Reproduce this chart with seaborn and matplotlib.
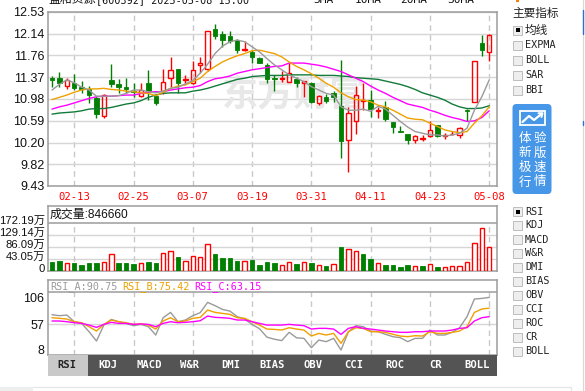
import matplotlib

matplotlib.use("Agg")
import matplotlib.pyplot as plt
import matplotlib.transforms as mtransforms
from matplotlib.patches import Rectangle, FancyBboxPatch
from matplotlib.lines import Line2D
import numpy as np
import seaborn as sns

# ---- data (60 trading days, 2025-02-10 .. 2025-05-08) ----
opens = [11.35, 11.35, 11.21, 11.27, 11.19, 11.16, 11.00, 10.67, 11.31, 11.25,
         11.19, 11.12, 11.03, 11.27, 11.03, 11.13, 11.35, 11.51, 11.31, 11.27,
         11.59, 11.52, 12.23, 12.14, 12.11, 12.03, 11.85, 11.82, 11.71, 11.59,
         11.35, 11.33, 11.29, 11.34, 11.26, 11.26, 10.90, 11.01, 11.08, 10.86,
         10.25, 10.58, 10.95, 10.97, 10.77, 10.83, 10.57, 10.41, 10.36, 10.25,
         10.27, 10.32, 10.52, 10.32, 10.35, 10.34, 10.79, 10.93, 11.97, 11.81]
highs = [11.39, 11.46, 11.35, 11.42, 11.30, 11.21, 11.03, 11.07, 11.60, 11.34,
         11.35, 11.27, 11.27, 11.50, 11.07, 11.51, 11.72, 11.51, 11.40, 11.66,
         11.72, 12.20, 12.32, 12.20, 12.20, 12.05, 12.01, 11.85, 11.73, 11.63,
         11.40, 11.48, 11.63, 11.38, 11.30, 11.28, 11.06, 11.07, 11.12, 11.68,
         10.84, 11.21, 11.26, 11.14, 10.84, 10.95, 10.57, 10.50, 10.36, 10.33,
         10.33, 10.59, 10.52, 10.38, 10.41, 10.48, 10.81, 11.65, 12.12, 12.13]
lows = [11.19, 11.20, 11.15, 11.14, 11.09, 10.91, 10.65, 10.65, 11.19, 11.09,
        11.08, 11.01, 11.01, 10.96, 10.88, 11.07, 11.19, 11.09, 11.25, 11.25,
        11.44, 11.47, 12.05, 11.90, 11.98, 11.80, 11.84, 11.62, 11.62, 11.26,
        11.13, 11.28, 11.29, 11.19, 11.01, 10.90, 10.88, 10.90, 10.93, 9.92,
        9.68, 10.36, 10.78, 10.66, 10.65, 10.58, 10.37, 10.39, 10.17, 10.19,
        10.24, 10.30, 10.30, 10.26, 10.33, 10.28, 10.59, 10.93, 11.75, 11.66]
closes = [11.31, 11.26, 11.31, 11.18, 11.15, 11.05, 10.71, 11.06, 11.25, 11.19,
          11.16, 11.10, 11.14, 11.13, 10.91, 11.28, 11.49, 11.26, 11.34, 11.49,
          11.62, 12.20, 12.11, 12.03, 12.02, 11.85, 11.86, 11.73, 11.63, 11.34,
          11.33, 11.35, 11.44, 11.27, 11.30, 10.93, 11.04, 10.95, 11.02, 10.24,
          10.73, 11.05, 10.97, 10.81, 10.78, 10.63, 10.48, 10.39, 10.25, 10.32,
          10.28, 10.43, 10.32, 10.33, 10.36, 10.46, 10.76, 11.65, 11.85, 12.12]

ma5 = [11.14, 11.24, 11.32, 11.27, 11.19, 11.14, 11.03, 11.03, 11.03, 11.04,
       11.08, 11.14, 11.14, 11.11, 11.09, 11.12, 11.17, 11.19, 11.25, 11.31,
       11.44, 11.60, 11.79, 11.92, 12.00, 12.03, 12.00, 11.91, 11.82, 11.70,
       11.59, 11.50, 11.41, 11.35, 11.29, 11.20, 11.14, 11.08, 11.05, 10.84,
       10.78, 10.78, 10.80, 10.76, 10.85, 10.80, 10.69, 10.58, 10.48, 10.40,
       10.37, 10.34, 10.34, 10.32, 10.34, 10.37, 10.46, 10.78, 11.02, 11.32]
ma10 = [10.97, 11.01, 11.05, 11.10, 11.14, 11.16, 11.16, 11.17, 11.15, 11.14,
        11.12, 11.11, 11.09, 11.08, 11.04, 11.10, 11.17, 11.21, 11.23, 11.29,
        11.35, 11.47, 11.56, 11.64, 11.70, 11.75, 11.79, 11.84, 11.85, 11.82,
        11.79, 11.73, 11.64, 11.56, 11.50, 11.43, 11.35, 11.26, 11.19, 11.09,
        11.02, 10.97, 10.96, 10.93, 10.87, 10.84, 10.78, 10.71, 10.64, 10.62,
        10.61, 10.55, 10.49, 10.43, 10.40, 10.38, 10.40, 10.55, 10.68, 10.84]
ma20 = [10.80, 10.84, 10.87, 10.91, 10.95, 10.99, 11.02, 11.03, 11.03, 11.04,
        11.05, 11.05, 11.08, 11.10, 11.11, 11.11, 11.14, 11.16, 11.18, 11.19,
        11.22, 11.29, 11.34, 11.36, 11.39, 11.44, 11.47, 11.50, 11.52, 11.54,
        11.56, 11.57, 11.62, 11.62, 11.62, 11.60, 11.58, 11.55, 11.51, 11.47,
        11.41, 11.35, 11.29, 11.21, 11.14, 11.08, 11.01, 10.95, 10.89, 10.86,
        10.83, 10.78, 10.74, 10.69, 10.65, 10.62, 10.58, 10.59, 10.65, 10.77]
ma30 = [10.71, 10.73, 10.74, 10.75, 10.77, 10.80, 10.81, 10.81, 10.83, 10.86,
        10.89, 10.91, 10.95, 11.01, 11.05, 11.08, 11.09, 11.09, 11.09, 11.12,
        11.14, 11.17, 11.21, 11.25, 11.29, 11.33, 11.35, 11.38, 11.39, 11.40,
        11.40, 11.40, 11.41, 11.41, 11.41, 11.41, 11.40, 11.40, 11.40, 11.39,
        11.38, 11.36, 11.35, 11.34, 11.33, 11.30, 11.27, 11.24, 11.20, 11.15,
        11.09, 11.05, 11.01, 10.96, 10.89, 10.84, 10.81, 10.81, 10.82, 10.86]

# volume in 万 (10k shares); 1 = red (close above previous close)
volume = [31.1, 34.7, 28.7, 29.9, 22.7, 29.9, 29.9, 33.5, 61.0, 29.9,
          29.9, 26.3, 28.7, 33.5, 29.9, 64.6, 71.7, 51.4, 37.1, 53.8,
          50.2, 98.1, 62.2, 47.8, 47.8, 34.7, 37.1, 40.7, 22.7, 33.5,
          29.9, 22.7, 33.5, 26.3, 33.5, 29.9, 21.5, 19.1, 26.3, 87.3,
          78.9, 71.7, 62.2, 44.2, 29.9, 22.7, 22.7, 15.5, 22.7, 17.9,
          19.1, 25.1, 15.5, 14.3, 17.9, 17.9, 32.3, 100.4, 154.3, 84.67]
vol_up = [0, 0, 1, 0, 0, 0, 0, 1, 1, 0, 0, 0, 1, 0, 0, 1, 1, 0, 1, 1,
          1, 1, 0, 0, 0, 0, 1, 0, 0, 0, 0, 1, 1, 0, 1, 0, 1, 0, 1, 0,
          1, 1, 0, 0, 1, 0, 0, 0, 0, 1, 0, 1, 0, 1, 1, 1, 1, 1, 1, 1]

rsi_a = [66.0, 64.6, 65.5, 56.0, 53.6, 41.7, 28.4, 51.2, 59.3, 56.0,
         53.6, 50.3, 52.2, 48.9, 37.0, 61.7, 69.3, 56.0, 58.4, 64.6,
         68.9, 83.6, 78.9, 73.6, 71.2, 63.2, 60.0, 52.0, 46.0, 34.0,
         31.0, 29.0, 40.8, 33.0, 32.2, 18.9, 29.8, 27.5, 32.2, 15.5,
         41.7, 50.3, 48.9, 42.7, 41.7, 38.0, 34.6, 33.2, 27.5, 32.2,
         32.2, 44.1, 37.0, 37.0, 40.8, 47.4, 63.2, 88.4, 89.3, 90.75]
rsi_b = [61.7, 60.8, 59.8, 56.0, 54.6, 48.9, 42.7, 52.2, 58.4, 56.0,
         54.6, 52.2, 53.2, 51.2, 45.5, 57.0, 61.7, 56.0, 57.0, 60.8,
         62.2, 72.7, 69.3, 67.9, 66.5, 61.7, 60.8, 56.0, 51.2, 45.5,
         45.0, 44.1, 47.4, 45.5, 44.1, 35.5, 39.3, 37.0, 39.3, 25.1,
         41.7, 47.4, 46.5, 41.7, 41.7, 40.8, 38.0, 35.5, 34.6, 36.0,
         35.5, 41.7, 39.3, 39.3, 40.8, 42.7, 48.9, 69.3, 74.1, 75.42]
rsi_c = [57.0, 57.0, 56.0, 54.6, 53.6, 51.2, 47.9, 52.2, 55.1, 53.6,
         53.6, 52.2, 52.7, 52.2, 48.9, 53.6, 56.0, 54.6, 55.1, 56.0,
         57.4, 64.1, 62.2, 61.7, 60.8, 58.4, 58.4, 56.0, 53.6, 51.2,
         51.2, 51.2, 52.2, 51.2, 50.3, 45.5, 46.5, 46.5, 45.5, 37.9,
         46.5, 48.9, 46.5, 45.5, 44.1, 42.7, 41.7, 40.8, 40.8, 41.7,
         41.7, 42.7, 42.7, 42.7, 44.1, 46.5, 47.4, 57.0, 61.7, 63.15]

date_idx = [3, 11, 19, 27, 35, 43, 51, 59]
date_labels = ["02-13", "02-25", "03-07", "03-19", "03-31", "04-11", "04-23", "05-08"]
price_ticks = [9.43, 9.82, 10.20, 10.59, 10.98, 11.37, 11.76, 12.14, 12.53]
vol_ticks = [0, 43.05, 86.09, 129.14, 172.19]
vol_labels = ["0", "43.05万", "86.09万", "129.14万", "172.19万"]
rsi_tick_pos = [89.9, 52.7, 15.6]
rsi_tick_labels = ["106", "57", "8"]
tab_names = ["RSI", "KDJ", "MACD", "W&R", "DMI", "BIAS", "OBV", "CCI", "ROC", "CR", "BOLL"]
main_opts = ["均线", "EXPMA", "BOLL", "SAR", "BBI"]
sub_opts = ["RSI", "KDJ", "MACD", "W&R", "DMI", "BIAS", "OBV", "CCI", "ROC", "CR", "BOLL"]

# ---- style ----
W, H = 585, 391
RED = "#ff0000"
GREEN = "#008000"
GRID = "#d6d6d6"
BORDER = "#9c9c9c"
C_MA5, C_MA10, C_MA20, C_MA30 = "#9a9a9a", "#f0a000", "#ff00ff", "#127a3a"
MONO = "DejaVu Sans Mono"
CJK = ["Liberation Sans", "Noto Sans CJK SC", "DejaVu Sans"]

sns.set_style("white")
plt.rcParams["font.family"] = CJK

fig = plt.figure(figsize=(W / 100, H / 100), dpi=100)
PX = mtransforms.Affine2D().scale(1 / W, -1 / H).translate(0, 1) + fig.transFigure

XMIN, XMAX = -0.54, 60.05
idx = np.arange(len(closes))
o, h, l, c = map(np.asarray, (opens, highs, lows, closes))


def px_box(x0, y0, x1, y1):
    return [x0 / W, 1 - y1 / H, (x1 - x0) / W, (y1 - y0) / H]


def style_panel(a):
    a.set_xlim(XMIN, XMAX)
    for s in a.spines.values():
        s.set_color(BORDER)
        s.set_linewidth(1.1)
    a.tick_params(axis="both", length=0)


# ---- main price panel ----
ax = fig.add_axes(px_box(48, 12, 497, 186))
style_panel(ax)
ax.set_ylim(9.43, 12.53)
ax.set_yticks(price_ticks, [f"{v:.2f}" for v in price_ticks])
ax.set_xticks(date_idx, date_labels)
ax.tick_params(axis="y", labelsize=9, labelcolor="#111111", pad=2.5)
ax.tick_params(axis="x", labelsize=7.6, labelcolor=RED, pad=4.5)
for t in ax.get_xticklabels():
    t.set_fontfamily(MONO)
ax.grid(axis="y", color=GRID, lw=1, ls="-")
ax.grid(axis="x", color="#c8c8c8", lw=1, ls=(0, (4, 3)))
ax.set_axisbelow(True)
ax.text(0.3875, 0.523, "东方财富", transform=ax.transAxes, fontsize=26,
        fontweight="bold", color="#e8e8e8", family="Noto Sans CJK SC",
        ha="left", va="center", zorder=1)

up = c >= o
top = np.maximum(o, c)
bot = np.minimum(o, c)
body = np.maximum(top - bot, 0.012)
wick_col = np.where(up, RED, GREEN)
ax.vlines(idx, top, h, colors=wick_col, lw=1, zorder=3)
ax.vlines(idx, l, bot, colors=wick_col, lw=1, zorder=3)
ax.bar(idx[up], body[up], bottom=bot[up], width=0.6, facecolor="none",
       edgecolor=RED, lw=1, zorder=4)
ax.bar(idx[~up], body[~up], bottom=bot[~up], width=0.6, facecolor=GREEN,
       edgecolor=GREEN, lw=0.6, zorder=4)
for series, col in ((ma30, C_MA30), (ma20, C_MA20), (ma10, C_MA10), (ma5, C_MA5)):
    sns.lineplot(x=idx, y=series, ax=ax, color=col, linewidth=1, zorder=5,
                 estimator=None, legend=False)
ax.set_xlabel("")
ax.set_ylabel("")

# ---- volume panel ----
VOL_TOP = 172.19 * 65 / 48
axv = fig.add_axes(px_box(48, 206, 497, 271))
style_panel(axv)
axv.set_ylim(0, VOL_TOP)
axv.set_xticks([])
axv.set_yticks([])
for v in vol_ticks[1:-1]:
    axv.axhline(v, color=GRID, lw=1, zorder=0)
axv.axhline(172.19, color=BORDER, lw=1.1, zorder=1)
axv.vlines(date_idx, 0, 172.19, colors="#c8c8c8", lw=1, linestyles=(0, (4, 3)), zorder=0)
vol = np.asarray(volume)
vup = np.asarray(vol_up, dtype=bool)
axv.bar(idx[vup], vol[vup], width=0.6, facecolor="white", edgecolor=RED, lw=1, zorder=3)
axv.bar(idx[~vup], vol[~vup], width=0.6, facecolor=GREEN, edgecolor=GREEN, lw=0.6, zorder=3)
lab_tr = mtransforms.blended_transform_factory(axv.transAxes, axv.transData) + \
    mtransforms.ScaledTranslation(0, 2.5 / 100, fig.dpi_scale_trans)
for v, s in zip(vol_ticks, vol_labels):
    axv.text(-0.0075, v, s, transform=lab_tr, ha="right", va="center",
             fontsize=8.1, color="#111111", clip_on=False)
fig.text(50 / W, 1 - 215 / H, "成交量:846660", fontsize=8.6, color="#111111",
         ha="left", va="center")

# ---- RSI panel ----
axr = fig.add_axes(px_box(48, 280, 497, 355))
style_panel(axr)
axr.set_ylim(8.43, 115.6)
axr.set_xticks([])
axr.set_yticks(rsi_tick_pos, rsi_tick_labels)
axr.tick_params(axis="y", labelsize=9, labelcolor="#111111", pad=2.5)
axr.axhline(98.4, color=BORDER, lw=1.1, zorder=1)
axr.axhline(52.7, color=GRID, lw=1, zorder=0)
axr.vlines(date_idx, 8.43, 98.4, colors="#c8c8c8", lw=1, linestyles=(0, (4, 3)), zorder=0)
for series, col in ((rsi_a, C_MA5), (rsi_b, C_MA10), (rsi_c, C_MA20)):
    sns.lineplot(x=idx, y=series, ax=axr, color=col, linewidth=1, zorder=3,
                 estimator=None, legend=False)
axr.set_xlabel("")
axr.set_ylabel("")
for x0, s, col in ((50, f"RSI_A:{rsi_a[-1]:.2f}", C_MA5),
                   (122, f"RSI_B:{rsi_b[-1]:.2f}", "#eea000"),
                   (194, f"RSI_C:{rsi_c[-1]:.2f}", C_MA20)):
    fig.text(x0 / W, 1 - 286.5 / H, s, fontsize=7.3, family=MONO, color=col,
             ha="left", va="center")

# ---- indicator tabs ----
fig.patches.append(Rectangle((48, 355), 449, 20.5, facecolor="#545454",
                             edgecolor="none", transform=PX, zorder=2))
fig.patches.append(Rectangle((48, 355), 40, 20.5, facecolor="#c9c9c9",
                             edgecolor="none", transform=PX, zorder=2))
for k, name in enumerate(tab_names):
    fig.text((67 + 41 * k) / W, 1 - 365.5 / H, name, fontsize=7.6, family=MONO,
             color="#222222" if k == 0 else "white", ha="center", va="center",
             fontweight="bold")

# ---- header (cut off at the top edge, as in the page capture) ----
fig.text(48 / W, 1 - 2.7 / H, "盛和资源", fontsize=8.6, color="#111111",
         ha="left", va="baseline")
fig.text(96 / W, 1 - 2.7 / H, "[600392] 2025-05-08 15:00", fontsize=7.3,
         family=MONO, color="#111111", ha="left", va="baseline")
for x0, s in ((313, "5MA"), (355, "10MA"), (400, "20MA"), (447, "30MA")):
    fig.text(x0 / W, 1 - 2.7 / H, s, fontsize=8, family=MONO, color="#111111",
             ha="left", va="baseline")

# ---- right side controls ----
fig.patches.append(Rectangle((516, 0), 3, 2, facecolor="#ff7f00", edgecolor="none",
                             transform=PX))
fig.text(512 / W, 1 - 13.5 / H, "主要指标", fontsize=8.4, color="#222222",
         family="Noto Sans CJK SC", ha="left", va="center")


def checkbox(y, checked):
    fig.patches.append(Rectangle((513, y - 4.5), 9, 9, facecolor="#eeeeee",
                                 edgecolor="#bdbdbd", lw=0.7, transform=PX))
    if checked:
        fig.patches.append(Rectangle((515.5, y - 2), 4, 4, facecolor="black",
                                     edgecolor="none", transform=PX))


for k, name in enumerate(main_opts):
    y = 30 + 15 * k
    checkbox(y, k == 0)
    if k == 0:
        fig.text(525 / W, 1 - y / H, name, fontsize=8.4, family="Noto Sans CJK SC",
                 color="#222222", ha="left", va="center")
    else:
        fig.text(525 / W, 1 - y / H, name, fontsize=7.3, family=MONO,
                 color="#222222", ha="left", va="center")

for k, name in enumerate(sub_opts):
    y = 211.5 + 14 * k
    checkbox(y, k == 0)
    fig.text(525 / W, 1 - y / H, name, fontsize=7.3, family=MONO,
             color="#222222", ha="left", va="center")

# blue "new version" button
fig.patches.append(FancyBboxPatch((512.5, 104), 39, 90,
                                  boxstyle="round,pad=0,rounding_size=4",
                                  facecolor="#4797e8", edgecolor="none", transform=PX))
fig.patches.append(Rectangle((520, 111), 25, 14, facecolor="none", edgecolor="white",
                             lw=1.3, transform=PX))
fig.lines.append(Line2D([522.5, 529, 534, 542], [122, 116, 120, 113.5], color="white",
                        lw=1.6, transform=PX))
fig.lines.append(Line2D([538.5, 542.5, 541.5], [113.2, 113.2, 117], color="white",
                        lw=1.4, transform=PX))
for row, (a, b) in enumerate([("体", "验"), ("新", "版"), ("极", "速"), ("行", "情")]):
    yc = 138.5 + 14.5 * row
    for xc, ch in ((524.5, a), (539.5, b)):
        fig.text(xc / W, 1 - yc / H, ch, fontsize=9, family="Noto Sans CJK SC",
                 color="white", ha="center", va="center")

# page edges
fig.lines.append(Line2D([583, 583], [0, 391], color="#d8d8d8", lw=0.8, transform=PX))
fig.lines.append(Line2D([583, 583], [10, 34], color="#2f6fd0", lw=1, transform=PX))
fig.lines.append(Line2D([583, 583], [121, 125], color="#2f6fd0", lw=1, transform=PX))
fig.lines.append(Line2D([33, 571, 571], [386.5, 386.5, 391], color="#e4e4e4", lw=0.8,
                        transform=PX))
fig.patches.append(Rectangle((0, 387), 33, 4, facecolor="#eeeeee", edgecolor="none",
                             transform=PX))

fig.savefig("out.png", dpi=100)
